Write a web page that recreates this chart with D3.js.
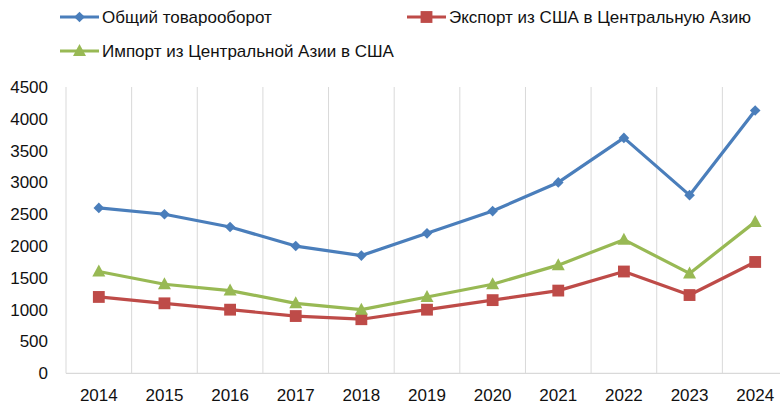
<!DOCTYPE html>
<html><head><meta charset="utf-8">
<script src="https://cdn.jsdelivr.net/npm/d3@7"></script>
<style>
html,body{margin:0;padding:0;background:#fff;}
svg text{font-family:"Liberation Sans",Arial,sans-serif;fill:#111;}
</style></head>
<body>
<svg id="chart" width="780" height="405"></svg>
<script>
const years = ["2014","2015","2016","2017","2018","2019","2020","2021","2022","2023","2024"];
const totalTrade = [2600,2500,2300,2000,1850,2200,2550,3000,3700,2800,4130];
const exportUS = [1200,1100,1000,900,850,1000,1150,1300,1600,1230,1750];
const importCA = [1600,1400,1300,1100,1000,1200,1400,1700,2100,1570,2380];
const yTicks = [0,500,1000,1500,2000,2500,3000,3500,4000,4500];
const seriesNames = ["Общий товарооборот","Экспорт из США в Центральную Азию","Импорт из Центральной Азии в США"];

const series = [
  {name: seriesNames[0], values: totalTrade, color: "#4a7ebb", marker: "diamond"},
  {name: seriesNames[1], values: exportUS, color: "#be4b48", marker: "square"},
  {name: seriesNames[2], values: importCA, color: "#98b954", marker: "triangle"}
];

const svg = d3.select("#chart");
const x = d3.scaleBand().domain(years).range([66, 788]).padding(0);
const y = d3.scaleLinear().domain([0, 4500]).range([373.3, 87]);
const grid = "#d9d9d9";

// vertical gridlines at band boundaries
const bounds = years.map(d => x(d)).concat([x.range()[1]]);
svg.append("g").selectAll("line").data(bounds).join("line")
  .attr("x1", d => d).attr("x2", d => d)
  .attr("y1", y(4500)).attr("y2", y(0))
  .attr("stroke", grid).attr("stroke-width", 1);
// bottom axis line
svg.append("line").attr("x1", 66).attr("x2", 788).attr("y1", y(0)).attr("y2", y(0))
  .attr("stroke", grid).attr("stroke-width", 1.3);

// y axis labels
const yAxis = d3.axisLeft(y).tickValues(yTicks).tickSize(0).tickPadding(0).tickFormat(d3.format("d"));
const gy = svg.append("g").attr("transform", "translate(48,0)").call(yAxis);
gy.select(".domain").remove();
gy.selectAll("text").attr("font-size", 17).attr("font-family", "Liberation Sans, Arial, sans-serif").attr("fill", "#111");

// x axis labels
const xAxis = d3.axisBottom(x).tickSize(0).tickPadding(0);
const gx = svg.append("g").attr("transform", "translate(0,389)").call(xAxis);
gx.select(".domain").remove();
gx.selectAll("text").attr("font-size", 17).attr("font-family", "Liberation Sans, Arial, sans-serif").attr("fill", "#111");

const cx = d => x(d) + x.bandwidth() / 2;
const line = d3.line().x((d, i) => cx(years[i])).y(d => y(d));

function markerPath(type) {
  if (type === "diamond") return d3.symbol().type(d3.symbolDiamond2).size(72)();
  if (type === "square") return d3.symbol().type(d3.symbolSquare).size(140)();
  return "M0,-7L6.5,5L-6.5,5Z";
}

series.forEach(s => {
  svg.append("path").datum(s.values).attr("d", line)
    .attr("fill", "none").attr("stroke", s.color).attr("stroke-width", 3.2)
    .attr("stroke-linejoin", "round");
  svg.append("g").selectAll("path").data(s.values).join("path")
    .attr("d", markerPath(s.marker))
    .attr("transform", (d, i) => `translate(${cx(years[i])},${y(d)})`)
    .attr("fill", s.color);
});

// legend
const legendPos = [{x: 60, y: 17}, {x: 407, y: 17}, {x: 60, y: 51}];
series.forEach((s, i) => {
  const p = legendPos[i];
  const g = svg.append("g").attr("transform", `translate(${p.x},${p.y})`);
  g.append("line").attr("x1", 0).attr("x2", 39).attr("stroke", s.color).attr("stroke-width", 3.2);
  g.append("path").attr("d", markerPath(s.marker)).attr("transform", "translate(19.5,0)").attr("fill", s.color);
  g.append("text").attr("x", 42).attr("y", 0).attr("dy", "0.35em")
    .attr("font-size", 17).text(s.name);
});
</script>
</body></html>
